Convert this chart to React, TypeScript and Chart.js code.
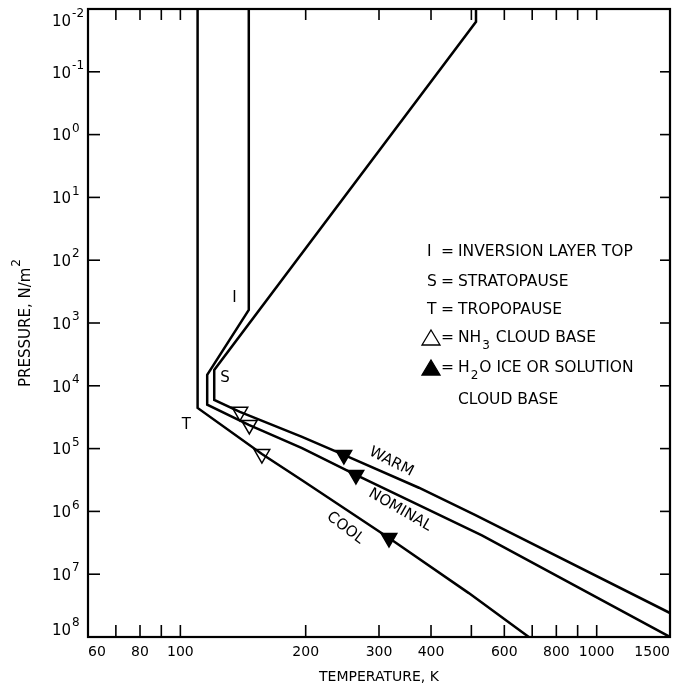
import { useEffect, useRef } from "react";
import { Chart, registerables } from "chart.js";

Chart.register(...registerables);

const FONT = '"DejaVu Sans", "Liberation Sans", sans-serif';

// Temperature (K) and pressure (N/m²) along each model atmosphere
const coolTemp = [110, 110, 157, 196, 317, 493, 687];
const coolPress = [1e-2, 2.25e4, 1.22e5, 3.2e5, 2.65e6, 2.0e7, 1e8];

const nominalTemp = [146, 146, 116, 116, 146, 196, 264, 530, 1500];
const nominalPress = [1e-2, 620, 6.7e3, 2.0e4, 4.2e4, 9.8e4, 2.63e5, 2.4e6, 1e8];

const warmTemp = [513, 513, 120.6, 120.6, 139, 196, 247, 374, 510, 1500];
const warmPress = [1e-2, 1.6e-2, 5.6e3, 1.68e4, 2.6e4, 6.5e4, 1.26e5, 4.2e5, 1.14e6, 4.15e7];

// Cloud bases (warm, nominal, cool)
const nh3Temp = [139, 146.4, 157];
const nh3Press = [2.6e4, 4.2e4, 1.22e5];
const h2oTemp = [247, 264, 317];
const h2oPress = [1.26e5, 2.63e5, 2.65e6];

// Axes
const xMin = 60;
const xMax = 1500;
const xTickMarks = [70, 80, 90, 100, 200, 300, 400, 500, 600, 700, 800, 900, 1000];
const xTickLabels = [60, 80, 100, 200, 300, 400, 600, 800, 1000, 1500];
const yExponents = [-2, -1, 0, 1, 2, 3, 4, 5, 6, 7, 8];

// Point labels placed in data space: [text, temperature, pressure, angle in degrees]
const pointLabels: [string, number, number, number][] = [
  ["I", 134.8, 400, 0],
  ["S", 128, 7.5e3, 0],
  ["T", 103.4, 4.2e4, 0],
  ["WARM", 321, 1.63e5, 27],
  ["NOMINAL", 337, 9.5e5, 30],
  ["COOL", 249, 1.84e6, 37],
];

const pts = (t: number[], p: number[]) => t.map((v, i) => ({ x: v, y: p[i] }));

const overlay = {
  id: "overlay",
  afterDatasetsDraw(chart: any) {
    const { ctx, chartArea: a, scales } = chart;
    const xs = scales.x;
    const ys = scales.y;
    const seg = (x1: number, y1: number, x2: number, y2: number) => {
      ctx.beginPath();
      ctx.moveTo(x1, y1);
      ctx.lineTo(x2, y2);
      ctx.stroke();
    };
    ctx.save();
    ctx.strokeStyle = "#000";
    ctx.fillStyle = "#000";

    // frame
    ctx.lineWidth = 2.2;
    ctx.strokeRect(a.left, a.top, a.right - a.left, a.bottom - a.top);

    // inward tick marks
    ctx.lineWidth = 1.6;
    for (const v of xTickMarks) {
      const px = xs.getPixelForValue(v);
      seg(px, a.bottom, px, a.bottom - 12);
      seg(px, a.top, px, a.top + 11);
    }
    for (const e of yExponents) {
      const py = ys.getPixelForValue(Math.pow(10, e));
      seg(a.left, py, a.left + 12, py);
      seg(a.right, py, a.right - 10, py);
    }

    // x tick labels
    ctx.font = `14px ${FONT}`;
    ctx.textBaseline = "middle";
    ctx.textAlign = "left";
    for (const v of xTickLabels) {
      const s = String(v);
      const w = ctx.measureText(s).width;
      let left = xs.getPixelForValue(v) - w / 2;
      left = Math.max(a.left, Math.min(a.right - w, left));
      ctx.fillText(s, left, a.bottom + 15);
    }

    // y tick labels: 10 with superscript exponent
    for (const e of yExponents) {
      const py = ys.getPixelForValue(Math.pow(10, e));
      const cy = Math.max(a.top + 13, Math.min(a.bottom - 6, py + 2));
      ctx.font = `15px ${FONT}`;
      ctx.fillText("10", 52, cy);
      const w = ctx.measureText("10").width;
      ctx.font = `12px ${FONT}`;
      ctx.fillText(String(e), 52 + w + 1, cy - 8);
    }

    // axis titles
    ctx.font = `14px ${FONT}`;
    ctx.textAlign = "center";
    ctx.fillText("TEMPERATURE, K", (a.left + a.right) / 2, 677);

    ctx.save();
    ctx.translate(26, (a.top + a.bottom) / 2);
    ctx.rotate(-Math.PI / 2);
    ctx.font = `15px ${FONT}`;
    const main = "PRESSURE, N/m";
    const mw = ctx.measureText(main).width;
    ctx.font = `12px ${FONT}`;
    const sw = ctx.measureText("2").width;
    const start = -(mw + sw + 1) / 2;
    ctx.textAlign = "left";
    ctx.font = `15px ${FONT}`;
    ctx.fillText(main, start, 0);
    ctx.font = `12px ${FONT}`;
    ctx.fillText("2", start + mw + 1, -9);
    ctx.restore();

    // labels on the curves
    ctx.textAlign = "center";
    ctx.textBaseline = "middle";
    for (const [txt, t, p, ang] of pointLabels) {
      const px = xs.getPixelForValue(t);
      const py = ys.getPixelForValue(p);
      ctx.save();
      ctx.translate(px, py);
      ctx.rotate((ang * Math.PI) / 180);
      ctx.font = `15px ${FONT}`;
      ctx.fillText(txt, 0, 0);
      ctx.restore();
    }

    // key
    const kx = 427;
    const eqx = 441;
    const tx = 458;
    const rows = [252, 282, 310, 338, 368, 400];
    const KEY_FONT = `15.5px ${FONT}`;
    ctx.textAlign = "left";
    const rowText = (y: number, letter: string, text: string) => {
      ctx.font = KEY_FONT;
      ctx.fillText(letter, kx, y);
      ctx.fillText("=", eqx, y);
      ctx.fillText(text, tx, y);
    };
    rowText(rows[0], "I", "INVERSION LAYER TOP");
    rowText(rows[1], "S", "STRATOPAUSE");
    rowText(rows[2], "T", "TROPOPAUSE");

    const tri = (cx: number, cy: number, filled: boolean) => {
      ctx.beginPath();
      ctx.moveTo(cx, cy - 8);
      ctx.lineTo(cx + 9, cy + 7);
      ctx.lineTo(cx - 9, cy + 7);
      ctx.closePath();
      ctx.lineWidth = 1.3;
      if (filled) ctx.fill();
      ctx.stroke();
    };
    const sub = (y: number, before: string, s: string, after: string) => {
      ctx.font = KEY_FONT;
      ctx.fillText(before, tx, y);
      const w1 = ctx.measureText(before).width;
      ctx.font = `12px ${FONT}`;
      ctx.fillText(s, tx + w1 + 1, y + 8);
      const w2 = ctx.measureText(s).width;
      ctx.font = KEY_FONT;
      ctx.fillText(after, tx + w1 + w2 + 2, y);
    };
    tri(kx + 4, rows[3], false);
    ctx.font = KEY_FONT;
    ctx.fillText("=", eqx, rows[3]);
    sub(rows[3], "NH", "3", " CLOUD BASE");
    tri(kx + 4, rows[4], true);
    ctx.font = KEY_FONT;
    ctx.fillText("=", eqx, rows[4]);
    sub(rows[4], "H", "2", "O ICE OR SOLUTION");
    ctx.font = KEY_FONT;
    ctx.fillText("CLOUD BASE", tx, rows[5]);

    ctx.restore();
  },
};

export default function App() {
  const ref = useRef<HTMLCanvasElement | null>(null);

  useEffect(() => {
    if (!ref.current) return;
    const line = (t: number[], p: number[]) => ({
      data: pts(t, p),
      showLine: true,
      borderColor: "#000",
      borderWidth: 2.5,
      pointRadius: 0,
      tension: 0,
      fill: false,
    });
    const marker = (t: number[], p: number[], fillColor: string) => ({
      data: pts(t, p),
      showLine: false,
      pointStyle: "triangle",
      rotation: 180,
      pointRadius: 9,
      pointBackgroundColor: fillColor,
      pointBorderColor: "#000",
      pointBorderWidth: 1.5,
    });
    const chart = new Chart(ref.current, {
      type: "scatter",
      data: {
        datasets: [
          line(coolTemp, coolPress),
          line(nominalTemp, nominalPress),
          line(warmTemp, warmPress),
          marker(nh3Temp, nh3Press, "#fff"),
          marker(h2oTemp, h2oPress, "#000"),
        ] as any,
      },
      options: {
        animation: false,
        responsive: false,
        devicePixelRatio: 1,
        layout: { autoPadding: false, padding: { left: 88, right: 3, top: 9, bottom: 50 } },
        plugins: { legend: { display: false }, tooltip: { enabled: false } },
        scales: {
          x: { type: "logarithmic", min: xMin, max: xMax, display: false },
          y: { type: "logarithmic", min: 1e-2, max: 1e8, reverse: true, display: false },
        },
      },
      plugins: [overlay],
    });
    return () => chart.destroy();
  }, []);

  return (
    <div style={{ position: "absolute", left: 0, top: 0, width: 673, height: 687, background: "#fff" }}>
      <canvas ref={ref} width={673} height={687} style={{ display: "block" }} />
    </div>
  );
}
